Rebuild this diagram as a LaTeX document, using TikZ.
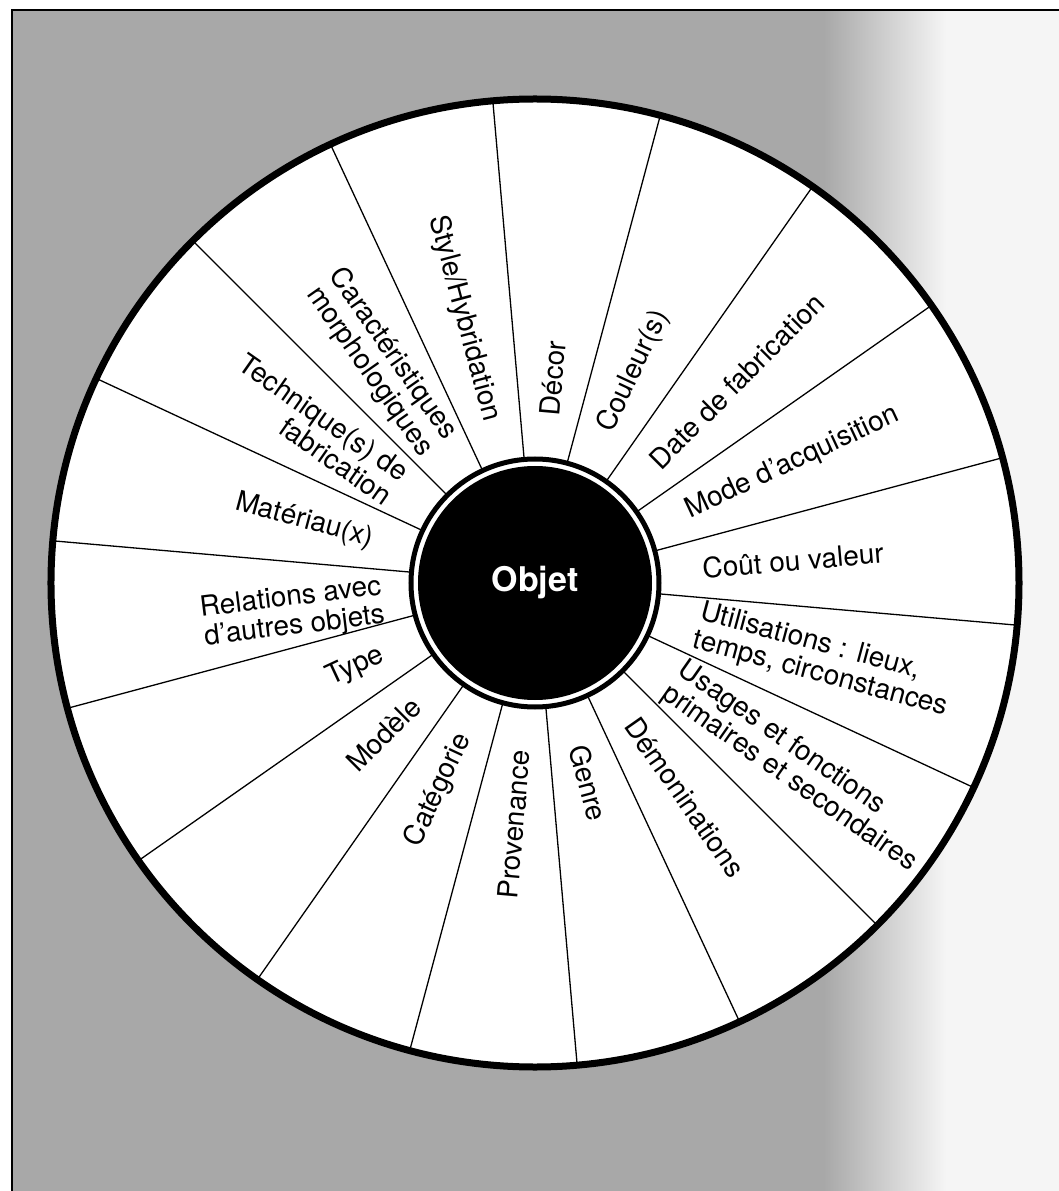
\documentclass[tikz,border=0pt]{standalone}
\usepackage{fontspec}
\setmainfont{TeX Gyre Heros}

\definecolor{scangray}{gray}{0.66}

\begin{document}
\begin{tikzpicture}[
		font=\fontsize{28pt}{29pt}\selectfont,
		rim/.style={draw, fill=white, line width=7pt},
		spoke/.style={line width=1.3pt},
		hubring/.style={draw, fill=white, line width=5pt},
		hub/.style={circle, fill=black, text=white, minimum size=234pt, inner sep=0pt,
			font=\fontsize{34pt}{40pt}\selectfont\bfseries},
		rlabel/.style={anchor=west, align=left, inner sep=0pt},
		llabel/.style={anchor=east, align=right, inner sep=0pt}
		]
		
		% Frame
		\useasboundingbox (-535pt,-608pt) rectangle (524pt,583pt);
		\fill[scangray] (-523pt,-608pt) rectangle (289pt,573pt);
		\shade[left color=scangray, right color=black!4] (289pt,-608pt) rectangle (411pt,573pt);
		\fill[black!4] (411pt,-608pt) rectangle (524pt,573pt);
		\draw[line width=2pt] (-523pt,-608pt) -- (-523pt,573pt) -- (524pt,573pt);
		
		% Wheel
		\draw[rim] (0,0) circle (484pt);
		\foreach \a in {15,35,...,355}
			\draw[spoke] (0,0) -- (\a:484pt);
		
		% Hub
		\draw[hubring] (0,0) circle (124pt);
		\node (objet) [hub] at (0,0) {Objet};
		
		% Right half
		\foreach \a/\txt in {5/Coût ou valeur, 25/Mode d’acquisition, 45/Date de fabrication,
			65/Couleur(s), 85/Décor, 285/Genre, 305/Démoninations,
			325/{Usages et fonctions\\primaires et secondaires},
			345/{Utilisations : lieux,\\temps, circonstances}}
			\node (lbl\a) [rlabel, rotate=\a] at (\a:168pt) {\txt};
		
		% Left half
		\foreach \a/\r/\txt in {105/168/{Style/Hybridation}, 125/168/{Caractéristiques\\morphologiques},
			145/168/{Technique(s) de\\fabrication}, 165/168/Matériau(x),
			187/153/{Relations avec\\d’autres objets}, 205/168/Type, 225/168/Modèle,
			245/168/Catégorie, 265/168/Provenance}
			\node (lbl\a) [llabel, rotate=\a-180] at (\a:\r pt) {\txt};
		
	\end{tikzpicture}
\end{document}
